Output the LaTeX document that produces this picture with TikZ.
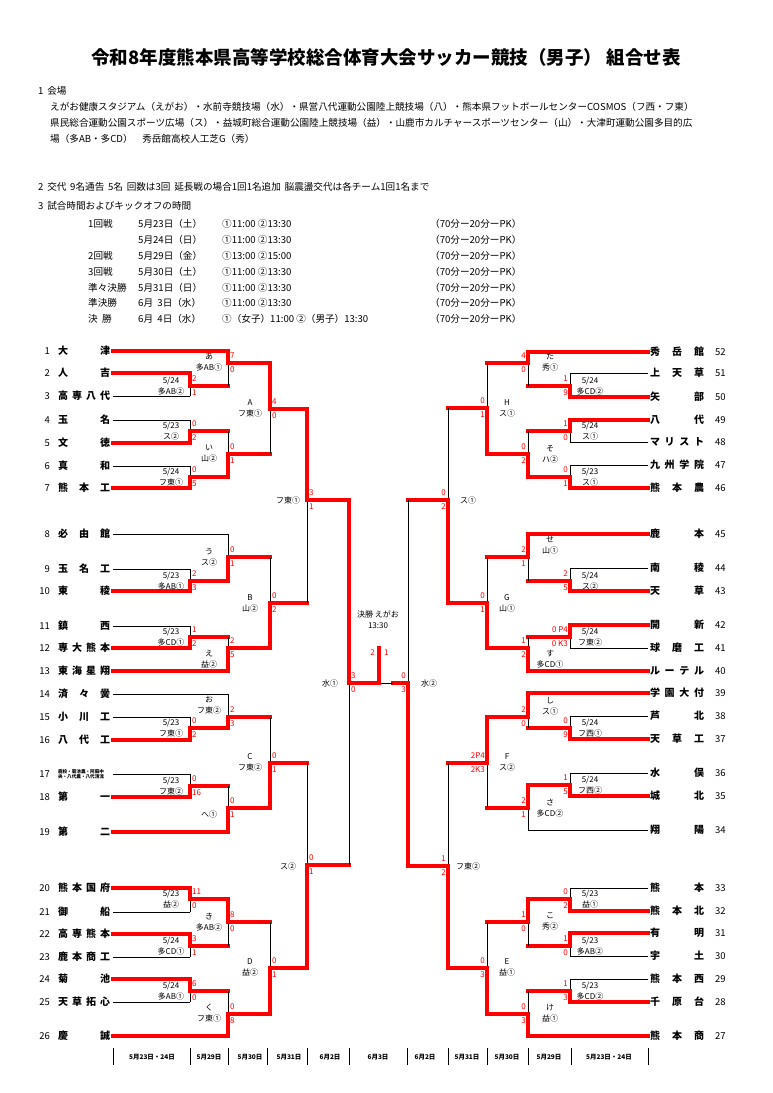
\documentclass[tikz,border=0pt]{standalone}
\usepackage{fontspec}
\setmainfont{Noto Sans CJK JP}
\begin{document}
\begin{tikzpicture}[x=1pt,y=-1pt,
  bl/.style={line width=0.9pt,black},
  rd/.style={line width=3.2pt,red,line cap=rect},
  sc/.style={font=\fontsize{8}{8}\selectfont,text=red,inner sep=0pt},
  lb/.style={font=\fontsize{8}{11}\selectfont,align=center,inner sep=0pt},
  nm/.style={font=\fontsize{10}{10}\bfseries\selectfont,inner sep=0pt},
  num/.style={font=\fontsize{9.5}{10}\selectfont,inner sep=0pt},
  tx/.style={font=\fontsize{9.6}{10}\selectfont,anchor=west,inner sep=0pt},
  dt/.style={font=\fontsize{6.5}{7}\bfseries\selectfont,inner sep=0pt}]
\useasboundingbox (0,0) rectangle (772,1093);
\def\hf{\hfill}
% match: x, ytop, ybot, yout, ywin, nextx
\newcommand\mt[6]{\draw[bl] (#1,#2) -- (#1,#3); \draw[rd] (#1,#5) -- (#1,#4) -- (#6,#4);}
\newcommand\sL[4]{\node[sc,anchor=west] at (#1+2,#2-7) {#3}; \node[sc,anchor=west] at (#1+2,#2+7) {#4};}
\newcommand\sR[4]{\node[sc,anchor=east] at (#1-2,#2-7) {#3}; \node[sc,anchor=east] at (#1-2,#2+7) {#4};}
\newcommand\lab[3]{\node[lb] at (#1,#2) {#3};}
\newcommand\tL[5]{\node[num,anchor=east] at (50,#1) {#2}; \node[nm] at (84,#1) {\makebox[52pt][s]{#3}}; \draw[#5] (113,#1) -- (#4,#1);}
\newcommand\tR[5]{\node[num,anchor=west] at (715,#1) {#2}; \node[nm] at (677,#1) {\makebox[54pt][s]{#3}}; \draw[#5] (648,#1) -- (#4,#1);}

% header
\node[font=\fontsize{18.5}{19}\bfseries\selectfont] (title) at (386,57) {令和8年度熊本県高等学校総合体育大会サッカー競技（男子） 組合せ表};
\node[tx] at (38,91) {1\, 会場};
\node[tx] at (50,107) {えがお健康スタジアム（えがお）・水前寺競技場（水）・県営八代運動公園陸上競技場（八）・熊本県フットボールセンターCOSMOS（フ西・フ東）};
\node[tx] at (50,123) {県民総合運動公園スポーツ広場（ス）・益城町総合運動公園陸上競技場（益）・山鹿市カルチャースポーツセンター（山）・大津町運動公園多目的広};
\node[tx] at (50,139) {場（多AB・多CD）\quad 秀岳館高校人工芝G（秀）};
\node[tx] at (38,187) {2\, 交代\, 9名通告\, 5名\, 回数は3回\, 延長戦の場合1回1名追加\, 脳震盪交代は各チーム1回1名まで};
\node[tx] at (38,206) {3\, 試合時間およびキックオフの時間};
\foreach \y/\a/\b/\c in {224/1回戦/5月23日（土）/①11:00 ②13:30, 240//5月24日（日）/①11:00 ②13:30, 256/2回戦/5月29日（金）/①13:00 ②15:00, 272/3回戦/5月30日（土）/①11:00 ②13:30, 288/準々決勝/5月31日（日）/①11:00 ②13:30, 303/準決勝/6月\ \ 3日（水）/①11:00 ②13:30, 319/決\ \ 勝/6月\ \ 4日（水）/①（女子）11:00 ②（男子）13:30}{
  \node[tx] at (88,\y) {\a}; \node[tx] at (138,\y) {\b}; \node[tx] at (222,\y) {\c}; \node[tx] at (430,\y) {（70分ー20分ーPK）};}

% left teams
\tL{351}{1}{大\hf 津}{228}{rd}
\tL{373}{2}{人\hf 吉}{190}{rd}
\tL{396}{3}{高\hf 専\hf 八\hf 代}{190}{bl}
\tL{420}{4}{玉\hf 名}{190}{bl}
\tL{443}{5}{文\hf 徳}{190}{rd}
\tL{466}{6}{真\hf 和}{190}{bl}
\tL{488}{7}{熊\hf 本\hf 工}{190}{rd}
\tL{534}{8}{必\hf 由\hf 館}{228}{bl}
\tL{569}{9}{玉\hf 名\hf 工}{190}{bl}
\tL{591}{10}{東\hf 稜}{190}{rd}
\tL{626}{11}{鎮\hf 西}{190}{bl}
\tL{648}{12}{専\hf 大\hf 熊\hf 本}{190}{rd}
\tL{671}{13}{東\hf 海\hf 星\hf 翔}{228}{rd}
\tL{694}{14}{済\hf 々\hf 黌}{228}{bl}
\tL{717}{15}{小\hf 川\hf 工}{190}{bl}
\tL{740}{16}{八\hf 代\hf 工}{190}{rd}
\tL{774}{17}{\parbox{52pt}{\fontsize{4.6}{5.5}\selectfont 鹿校・菊池農・阿蘇中\\央・八代農・八代清流}}{190}{bl}
\tL{797}{18}{第\hf 一}{190}{rd}
\tL{832}{19}{第\hf 二}{228}{rd}
\tL{888}{20}{熊\hf 本\hf 国\hf 府}{190}{rd}
\tL{912}{21}{御\hf 船}{190}{bl}
\tL{934}{22}{高\hf 専\hf 熊\hf 本}{190}{rd}
\tL{957}{23}{鹿\hf 本\hf 商\hf 工}{190}{bl}
\tL{979}{24}{菊\hf 池}{190}{rd}
\tL{1002}{25}{天\hf 草\hf 拓\hf 心}{190}{bl}
\tL{1036}{26}{慶\hf 誠}{228}{rd}

% right teams
\tR{352}{52}{秀\hf 岳\hf 館}{528}{rd}
\tR{373}{51}{上\hf 天\hf 草}{570}{bl}
\tR{397}{50}{矢\hf 部}{570}{rd}
\tR{420}{49}{八\hf 代}{570}{rd}
\tR{442}{48}{マ\hf リ\hf ス\hf ト}{570}{bl}
\tR{465}{47}{九\hf 州\hf 学\hf 院}{570}{bl}
\tR{488}{46}{熊\hf 本\hf 農}{570}{rd}
\tR{534}{45}{鹿\hf 本}{528}{rd}
\tR{568}{44}{南\hf 稜}{570}{bl}
\tR{591}{43}{天\hf 草}{570}{rd}
\tR{625}{42}{開\hf 新}{570}{rd}
\tR{648}{41}{球\hf 磨\hf 工}{570}{bl}
\tR{671}{40}{ル\hf ー\hf テ\hf ル}{528}{rd}
\tR{693}{39}{学\hf 園\hf 大\hf 付}{528}{rd}
\tR{716}{38}{芦\hf 北}{570}{bl}
\tR{739}{37}{天\hf 草\hf 工}{570}{rd}
\tR{773}{36}{水\hf 俣}{570}{bl}
\tR{796}{35}{城\hf 北}{570}{rd}
\tR{830}{34}{翔\hf 陽}{528}{bl}
\tR{888}{33}{熊\hf 本}{570}{bl}
\tR{911}{32}{熊\hf 本\hf 北}{570}{rd}
\tR{933}{31}{有\hf 明}{570}{rd}
\tR{956}{30}{宇\hf 土}{570}{bl}
\tR{979}{29}{熊\hf 本\hf 西}{570}{bl}
\tR{1002}{28}{千\hf 原\hf 台}{570}{rd}
\tR{1036}{27}{熊\hf 本\hf 商}{528}{rd}

% left matches
\mt{190}{373}{396}{386}{373}{228} \sL{190}{386}{2}{1} \lab{171}{386}{5/24\\多AB②}
\mt{228}{351}{386}{363}{351}{270} \sL{228}{363}{7}{0} \lab{209}{362}{あ\\多AB①}
\mt{190}{420}{443}{431}{443}{228} \sL{190}{431}{0}{2} \lab{171}{431}{5/23\\ス②}
\mt{190}{466}{488}{477}{488}{228} \sL{190}{477}{0}{5} \lab{171}{477}{5/24\\フ東①}
\mt{228}{431}{477}{454}{477}{270} \sL{228}{454}{0}{1} \lab{209}{454}{い\\山②}
\mt{270}{363}{454}{409}{363}{307} \sL{270}{409}{4}{0} \lab{250}{408}{A\\フ東①}
\mt{190}{569}{591}{581}{591}{228} \sL{190}{581}{2}{3} \lab{171}{581}{5/23\\多AB①}
\mt{228}{534}{581}{557}{581}{270} \sL{228}{557}{0}{1} \lab{209}{557}{う\\ス②}
\mt{190}{626}{648}{637}{648}{228} \sL{190}{637}{1}{2} \lab{171}{637}{5/23\\多CD①}
\mt{228}{637}{671}{648}{671}{270} \sL{228}{648}{2}{5} \lab{209}{659}{え\\益②}
\mt{270}{557}{648}{603}{648}{307} \sL{270}{603}{0}{2} \lab{250}{603}{B\\山②}
\mt{307}{409}{603}{500}{409}{349} \sL{307}{500}{3}{1} \lab{288}{500}{フ東①}
\mt{190}{717}{740}{728}{740}{228} \sL{190}{728}{0}{2} \lab{171}{728}{5/23\\フ東①}
\mt{228}{694}{728}{717}{728}{270} \sL{228}{717}{2}{3} \lab{209}{705}{お\\フ東②}
\mt{190}{774}{797}{786}{797}{228} \sL{190}{786}{0}{16} \lab{171}{786}{5/23\\フ東②}
\mt{228}{786}{832}{808}{832}{270} \sL{228}{808}{0}{1} \lab{209}{814}{へ①}
\mt{270}{717}{808}{763}{808}{307} \sL{270}{763}{0}{1} \lab{250}{762}{C\\フ東②}
\mt{190}{888}{912}{899}{888}{228} \sL{190}{899}{11}{0} \lab{171}{899}{5/23\\益②}
\mt{190}{934}{957}{946}{934}{228} \sL{190}{946}{3}{1} \lab{171}{946}{5/24\\多CD①}
\mt{228}{899}{946}{922}{899}{270} \sL{228}{922}{8}{0} \lab{209}{922}{き\\多AB②}
\mt{190}{979}{1002}{991}{979}{228} \sL{190}{991}{6}{0} \lab{171}{991}{5/24\\多AB①}
\mt{228}{991}{1036}{1014}{1036}{270} \sL{228}{1014}{0}{8} \lab{209}{1013}{く\\フ東①}
\mt{270}{922}{1014}{968}{1014}{307} \sL{270}{968}{0}{1} \lab{250}{967}{D\\益②}
\mt{307}{763}{968}{865}{968}{349} \sL{307}{865}{0}{1} \lab{288}{866}{ス②}
\mt{349}{500}{865}{683}{500}{379} \sL{349}{683}{3}{0} \lab{330}{683}{水①}

% right matches
\mt{570}{373}{397}{386}{397}{528} \sR{570}{386}{1}{9} \lab{590}{386}{5/24\\多CD②}
\mt{528}{352}{386}{363}{352}{487} \sR{528}{363}{4}{0} \lab{550}{362}{た\\秀①}
\mt{570}{420}{442}{431}{420}{528} \sR{570}{431}{1}{0} \lab{590}{431}{5/24\\ス①}
\mt{570}{465}{488}{477}{488}{528} \sR{570}{477}{0}{1} \lab{590}{477}{5/23\\ス①}
\mt{528}{431}{477}{454}{477}{487} \sR{528}{454}{0}{2} \lab{550}{454}{そ\\ハ②}
\mt{487}{363}{454}{408}{454}{448} \sR{487}{408}{0}{1} \lab{507}{408}{H\\ス①}
\mt{570}{568}{591}{581}{591}{528} \sR{570}{581}{2}{5} \lab{590}{581}{5/24\\ス②}
\mt{528}{534}{581}{557}{534}{487} \sR{528}{557}{2}{1} \lab{550}{545}{せ\\山①}
\mt{570}{625}{648}{637}{625}{528} \sR{570}{637}{0 P4}{0 K3} \lab{590}{637}{5/24\\フ東②}
\mt{528}{637}{671}{648}{671}{487} \sR{528}{648}{1}{2} \lab{550}{659}{す\\多CD①}
\mt{487}{557}{648}{603}{648}{448} \sR{487}{603}{0}{1} \lab{507}{603}{G\\山①}
\mt{448}{408}{603}{500}{603}{408} \sR{448}{500}{0}{2} \lab{468}{500}{ス①}
\mt{570}{716}{739}{728}{739}{528} \sR{570}{728}{0}{9} \lab{590}{728}{5/24\\フ西①}
\mt{528}{693}{728}{717}{693}{487} \sR{528}{717}{2}{0} \lab{550}{706}{し\\ス①}
\mt{570}{773}{796}{785}{796}{528} \sR{570}{785}{1}{5} \lab{590}{785}{5/24\\フ西②}
\mt{528}{785}{830}{808}{785}{487} \sR{528}{808}{2}{1} \lab{550}{808}{さ\\多CD②}
\mt{487}{717}{808}{763}{717}{448} \sR{487}{763}{2P4}{2K3} \lab{507}{762}{F\\ス②}
\mt{570}{888}{911}{899}{911}{528} \sR{570}{899}{0}{2} \lab{590}{899}{5/23\\益①}
\mt{570}{933}{956}{946}{933}{528} \sR{570}{946}{1}{0} \lab{590}{946}{5/23\\多AB②}
\mt{528}{899}{946}{922}{899}{487} \sR{528}{922}{1}{0} \lab{550}{922}{こ\\秀②}
\mt{570}{979}{1002}{991}{1002}{528} \sR{570}{991}{1}{3} \lab{590}{991}{5/23\\多CD②}
\mt{528}{991}{1036}{1014}{1036}{487} \sR{528}{1014}{0}{3} \lab{550}{1013}{け\\益①}
\mt{487}{922}{1014}{968}{1014}{448} \sR{487}{968}{0}{3} \lab{507}{967}{E\\益①}
\mt{448}{763}{968}{866}{968}{408} \sR{448}{866}{1}{2} \lab{468}{866}{フ東②}
\mt{408}{500}{866}{683}{866}{393} \sR{408}{683}{0}{3} \lab{429}{683}{水②}

% final
\draw[bl] (379,683) -- (393,683);
\draw[rd] (379,683) -- (379,648);
\node[sc,anchor=east] at (375,653) {2};
\node[sc,anchor=west] at (384,653) {1};
\lab{378}{620}{決勝\ えがお\\13:30}

% date bar
\foreach \x in {113,190,228,267,307,349,407,448,487,528,571,648} \draw[line width=0.9pt] (\x,1048) -- (\x,1065);
\foreach \x/\t in {152/5月23日・24日,209/5月29日,250/5月30日,289/5月31日,330/6月2日,378/6月3日,425/6月2日,467/5月31日,507/5月30日,549/5月29日,609/5月23日・24日}
  \node[dt] at (\x,1057) {\t};
\end{tikzpicture}
\end{document}
